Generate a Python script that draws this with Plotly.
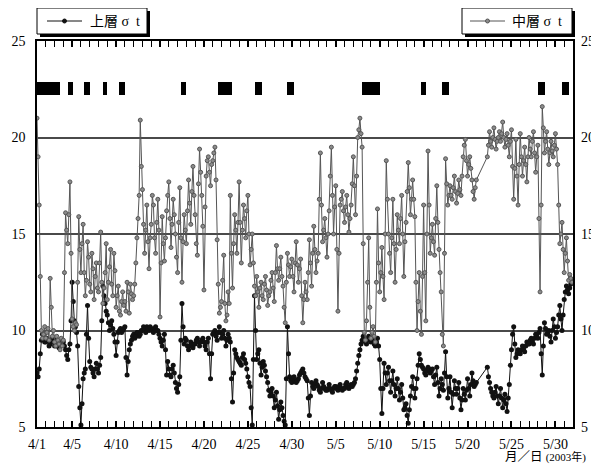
import pandas as pd
import plotly.graph_objects as go

# ---- data: 3-hourly readings (8 per day), 4/1 .. 5/31 ----
upper_sigma_t = [
    7.8, 7.6, 8.0, 8.8, 9.5, 9.8, 9.7, 9.4,
    9.4, 9.6, 9.5, 9.2, 9.3, 9.5, 9.6, 9.4,
    9.2, 9.5, 9.4, 9.2, 9.1, 9.3, 9.3, 9.5,
    9.4, 9.2, 9.0, 8.7, 8.5, 9.0, 9.3, 10.5,
    12.5, 11.5, 10.5, 10.2, 9.9, 9.2, 7.1, 6.0,
    5.1, 6.2, 7.5, 7.8, 8.0, 9.8, 11.3, 9.6,
    8.4, 8.1, 8.0, 7.8, 7.6, 8.0, 8.3, 8.0,
    7.8, 8.2, 8.6, 10.5, 12.3, 11.8, 11.4, 11.0,
    10.8, 10.4, 10.0, 10.3, 10.5, 10.1, 9.8, 9.4,
    8.7, 9.4, 9.9, 10.0, 10.1, 9.9, 10.0, 10.1,
    10.2, 8.6, 7.7, 8.4, 9.0, 9.3, 9.5, 9.7,
    9.8, 9.6, 9.7, 9.9, 9.9, 9.7, 9.8, 10.0,
    10.0, 10.2, 10.1, 9.9, 10.2, 10.1, 10.0, 10.2,
    10.1, 10.0, 9.9, 10.1, 10.2, 10.0, 10.0, 9.8,
    9.6, 9.4, 9.2, 9.5, 9.8, 9.0, 7.7, 8.4,
    8.0, 7.7, 7.6, 8.0, 8.2, 7.8, 7.3, 7.0,
    6.8, 7.2, 7.6, 9.5, 11.4, 10.2, 9.3, 9.6,
    9.5, 9.2, 9.0, 9.2, 9.4, 9.3, 9.1, 9.3,
    9.3, 9.5, 9.6, 9.4, 9.2, 9.4, 9.5, 9.6,
    9.4, 9.2, 9.0, 9.4, 9.6, 8.8, 7.5, 8.8,
    9.8, 9.9, 10.0, 9.7, 9.5, 9.9, 10.2, 9.9,
    9.6, 9.8, 10.0, 9.6, 9.2, 9.5, 9.8, 9.6,
    9.4, 7.5, 6.3, 7.8, 9.0, 8.8, 8.6, 8.5,
    8.4, 8.3, 8.2, 8.6, 8.8, 8.5, 8.3, 8.0,
    7.6, 7.3, 7.1, 6.0, 5.1, 8.5, 11.8, 10.0,
    8.5, 8.8, 9.0, 8.3, 7.7, 8.1, 8.4, 8.2,
    7.9, 7.6, 7.3, 6.9, 6.6, 6.8, 7.0, 6.6,
    6.0, 6.4, 6.8, 6.1, 5.4, 5.9, 6.3, 6.0,
    5.6, 5.3, 5.1, 7.5, 10.2, 8.8, 7.6, 7.4,
    7.3, 7.5, 7.6, 7.4, 7.3, 7.4, 7.5, 7.7,
    7.8, 7.9, 8.0, 7.8, 7.6, 7.5, 7.4, 6.5,
    5.6, 6.6, 7.3, 7.1, 7.0, 7.2, 7.4, 7.2,
    7.1, 6.9, 6.8, 7.0, 7.3, 7.1, 7.0, 6.9,
    6.9, 7.0, 7.2, 7.0, 6.9, 6.8, 7.0, 7.1,
    7.1, 7.0, 6.9, 7.1, 7.2, 7.0, 6.9, 7.0,
    7.0, 7.2, 7.3, 7.1, 7.0, 7.1, 7.2, 7.1,
    7.2, 7.3, 7.5, 7.9, 8.3, 8.7, 9.0, 9.3,
    9.5, 9.7, 9.6, 9.4, 9.3, 9.5, 9.7, 9.5,
    9.4, 9.6, 9.5, 9.3, 9.2, 9.4, 9.6, 9.2,
    8.5, 7.0, 5.7, 7.0, 8.3, 7.8, 7.2, 7.8,
    8.1, 7.4, 6.8, 7.4, 7.9, 7.2, 6.6, 7.0,
    7.5, 7.0, 6.4, 6.8, 7.2, 6.5, 5.9, 6.0,
    6.2, 5.6, 5.2, 5.9, 6.6, 7.1, 7.6, 7.0,
    6.5, 7.0, 7.5, 8.2, 8.8, 8.5, 8.2, 8.1,
    8.0, 7.8, 7.7, 7.9, 8.1, 8.0, 7.8, 7.9,
    8.0, 7.6, 7.2, 7.7, 8.1, 7.3, 6.6, 7.0,
    7.5, 7.2, 6.9, 7.8, 8.9, 7.6, 6.5, 7.0,
    7.6, 6.8, 6.0, 6.7, 7.4, 7.0, 6.7, 7.0,
    7.3, 6.5, 5.9, 6.4, 7.0, 6.7, 6.4, 6.9,
    7.5, 7.0, 6.6, 7.2, 7.8, 7.4, 7.1, 7.2,
    7.3, None, None, None, None, None, None, None,
    None, None, 8.1, 7.6, 7.3, 7.0, 6.8, 6.6,
    6.5, 6.8, 7.1, 6.6, 6.2, 6.6, 7.0, 6.5,
    6.0, 6.4, 6.7, 6.2, 5.8, 6.5, 7.2, 8.2,
    9.0, 9.8, 10.2, 9.3, 8.6, 8.8, 9.0, 8.9,
    8.8, 9.0, 9.2, 9.0, 8.9, 9.2, 9.4, 9.3,
    9.3, 9.5, 9.6, 9.4, 9.3, 9.6, 9.8, 9.7,
    9.6, 9.9, 10.1, 8.8, 7.7, 9.2, 10.4, 10.1,
    9.8, 9.9, 10.0, 9.7, 9.4, 10.0, 10.6, 10.2,
    9.6, 9.9, 10.2, 10.8, 11.3, 10.6, 10.0, 10.8,
    11.6, 12.0, 12.3, 12.1, 11.9, 12.2, 12.4, 12.6,
]
middle_sigma_t = [
    21.0, 19.0, 16.5, 12.8, 10.0, 9.6, 9.8, 10.2,
    9.6, 9.9, 10.1, 9.5, 12.7, 11.2, 9.7, 10.0,
    9.4, 9.2, 9.7, 9.5, 9.3, 9.0, 9.6, 9.2,
    9.5, 13.0, 16.1, 15.2, 14.5, 16.0, 17.7, 14.0,
    10.6, 10.2, 10.0, 10.4, 10.3, 12.5, 15.9, 14.2,
    13.0, 14.5, 15.5, 13.0, 11.8, 12.6, 14.6, 13.8,
    12.4, 12.0, 14.0, 13.2, 11.6, 12.8, 13.5, 12.2,
    12.0, 13.5, 15.1, 12.5, 11.4, 12.2, 13.0, 14.5,
    11.6, 12.5, 13.3, 14.2, 12.4, 11.8, 14.0, 13.1,
    11.2, 11.8, 12.3, 11.0, 10.8, 11.5, 12.0, 11.3,
    11.5, 11.0, 12.5, 12.0, 10.9, 12.4, 11.9, 11.6,
    11.8, 12.4, 13.5, 14.8, 15.8, 17.0, 20.9, 18.5,
    17.3, 15.5, 14.0, 15.2, 16.5, 14.6, 13.2, 14.8,
    15.5, 17.0, 16.5, 14.8, 14.0, 15.6, 16.8, 15.2,
    10.7, 13.5, 15.9, 14.5, 13.6, 14.8, 16.2, 17.0,
    17.7, 15.8, 14.3, 15.5, 16.8, 16.0, 15.0, 13.8,
    13.0, 15.6, 17.4, 14.8, 12.5, 14.6, 16.0, 15.2,
    14.5, 16.2, 17.8, 16.6, 15.5, 17.2, 18.5, 17.0,
    16.0, 14.5, 13.9, 17.6, 19.4, 18.2, 17.0, 15.4,
    12.1, 16.4, 18.0, 18.8, 19.0, 18.2, 17.5, 18.6,
    18.8, 19.2, 19.5, 17.8, 14.7, 12.4, 10.9, 11.2,
    11.5, 12.6, 13.9, 11.4, 10.5, 10.8, 12.0, 11.4,
    17.0, 14.0, 12.2, 14.5, 16.0, 15.2, 14.0, 15.6,
    17.7, 15.6, 13.5, 15.2, 16.5, 15.8, 14.8, 16.2,
    17.0, 15.0, 13.4, 14.2, 15.0, 13.5, 12.3, 11.8,
    12.8, 12.0, 11.2, 12.2, 12.5, 11.8, 11.6, 12.4,
    12.8, 12.1, 11.3, 11.8, 12.0, 12.6, 13.0, 12.2,
    11.5, 13.0, 14.4, 13.2, 12.6, 13.2, 13.8, 12.8,
    12.3, 11.2, 10.4, 12.5, 14.0, 13.4, 12.8, 13.3,
    13.7, 12.8, 12.0, 13.5, 14.6, 13.4, 12.5, 13.2,
    13.7, 11.8, 10.4, 11.6, 12.5, 12.0, 11.6, 13.0,
    14.7, 13.5, 12.3, 14.0, 15.4, 14.2, 13.0, 13.6,
    14.0, 16.8, 19.2, 16.5, 14.6, 15.2, 15.8, 14.8,
    13.8, 15.0, 16.2, 18.0, 19.5, 17.0, 15.0, 16.4,
    17.5, 14.2, 11.0, 14.0, 16.5, 16.8, 17.2, 16.2,
    15.6, 16.4, 17.0, 16.0, 15.1, 15.8, 16.5, 17.6,
    19.0, 17.5, 16.0, 18.0, 20.0, 20.4, 21.0, 20.2,
    19.5, 14.5, 9.9, 9.5, 10.5, 12.5, 14.8, 11.2,
    9.6, 9.9, 10.2, 9.7, 9.4, 12.5, 16.3, 13.5,
    12.0, 13.0, 14.3, 12.8, 11.6, 15.0, 18.8, 16.8,
    15.0, 14.0, 13.0, 14.8, 16.8, 14.5, 12.5, 14.2,
    16.0, 15.2, 14.5, 15.8, 17.0, 15.0, 12.8, 14.6,
    15.6, 17.2, 18.7, 17.4, 16.0, 16.8, 17.8, 16.8,
    15.9, 12.5, 10.0, 11.5, 13.0, 11.0, 9.8, 12.8,
    16.5, 13.0, 10.5, 15.0, 19.3, 16.5, 14.0, 14.8,
    15.5, 14.6, 13.9, 15.8, 17.5, 15.6, 14.2, 13.0,
    12.0, 9.8, 9.2, 14.0, 18.9, 17.6, 16.5, 17.0,
    17.5, 17.0, 16.8, 17.4, 18.0, 17.2, 16.6, 17.1,
    17.8, 17.3, 17.0, 18.0, 19.0, 19.6, 19.9, 18.8,
    18.0, 18.6, 19.0, 18.4, 17.8, 17.2, 16.8, 17.4,
    17.8, None, None, None, None, None, None, None,
    None, None, 19.0, 19.6, 20.3, 19.8, 19.5, 20.0,
    20.5, 19.9, 19.4, 19.8, 20.0, 20.3, 19.8, 20.2,
    20.8, 20.0, 19.5, 19.9, 20.2, 19.6, 19.0, 19.8,
    20.4, 18.5, 16.8, 18.4, 19.9, 18.0, 16.5, 18.6,
    20.2, 19.0, 18.0, 18.8, 19.5, 18.6, 17.7, 19.0,
    20.0, 19.4, 19.0, 19.8, 20.3, 19.2, 18.2, 19.0,
    19.6, 15.8, 12.0, 16.5, 21.6, 20.5, 19.2, 19.8,
    20.3, 19.4, 18.6, 19.2, 19.8, 19.3, 19.0, 19.6,
    20.2, 19.4, 18.6, 16.5, 14.5, 15.0, 15.6, 14.2,
    13.0, 14.0, 14.8, 13.6, 12.6, 12.9, 12.7, 12.5,
]
times = pd.date_range("2003-04-01 00:00", periods=len(upper_sigma_t), freq="3h")

series_names = ["上層\u00a0σ\u00a0\u00a0t", "中層\u00a0σ\u00a0\u00a0t"]

# periods marked by black bars near the top
mark_start = ["2003-04-01 01:00", "2003-04-04 14:00", "2003-04-06 07:00", "2003-04-08 12:00",
              "2003-04-10 07:00", "2003-04-17 10:00", "2003-04-21 14:00", "2003-04-25 19:00",
              "2003-04-29 12:00", "2003-05-08 00:00", "2003-05-14 18:00", "2003-05-17 02:00",
              "2003-05-28 00:00", "2003-05-30 19:00"]
mark_end = ["2003-04-03 14:00", "2003-04-05 02:00", "2003-04-07 00:00", "2003-04-09 00:00",
            "2003-04-11 00:00", "2003-04-17 22:00", "2003-04-23 05:00", "2003-04-26 14:00",
            "2003-04-30 05:00", "2003-05-10 02:00", "2003-05-15 07:00", "2003-05-17 22:00",
            "2003-05-28 19:00", "2003-05-31 14:00"]
mark_low, mark_high = 22.2, 22.85

tick_dates = ["2003-04-01", "2003-04-05", "2003-04-10", "2003-04-15", "2003-04-20", "2003-04-25",
              "2003-04-30", "2003-05-05", "2003-05-10", "2003-05-15", "2003-05-20", "2003-05-25",
              "2003-05-30"]
tick_text = ["4/1", "4/5", "4/10", "4/15", "4/20", "4/25", "4/30", "5/5", "5/10", "5/15",
             "5/20", "5/25", "5/30"]
y_ticks = [5, 10, 15, 20, 25]

FONT = '"Liberation Serif", "Noto Sans CJK JP", serif'
BLACK = "#111111"
GRAY_LINE = "#555555"
GRAY_FILL = "#8c8c8c"

ms = pd.to_datetime(pd.Series(mark_start))
me = pd.to_datetime(pd.Series(mark_end))
mid = ms + (me - ms) / 2
widths = [(b - a).total_seconds() * 1000 for a, b in zip(ms, me)]

fig = go.Figure()
fig.add_trace(go.Bar(x=list(mid), y=[mark_high - mark_low] * len(mid), base=mark_low,
                     width=widths, marker=dict(color="black", line=dict(width=0)),
                     showlegend=False, hoverinfo="skip"))
fig.add_trace(go.Scatter(x=times, y=upper_sigma_t, mode="lines+markers", name=series_names[0],
                         connectgaps=True, line=dict(color=BLACK, width=1),
                         marker=dict(symbol="circle", size=5, color=BLACK),
                         showlegend=False))
fig.add_trace(go.Scatter(x=times, y=middle_sigma_t, mode="lines+markers", name=series_names[1],
                         connectgaps=True, line=dict(color=GRAY_LINE, width=1),
                         marker=dict(symbol="circle", size=4, color=GRAY_FILL,
                                     line=dict(color=GRAY_LINE, width=1)),
                         yaxis="y2", showlegend=False))

# The page body has an 8px margin; figure coords = screen coords - 8.
# Target plot box on screen: x 37..573, y 41..427  ->  figure: x 29..565, y 33..419
W, H = 591, 466
PL, PR, PT, PB = 29, 565, 33, 419

def px_x(p):  # screen px -> paper x
    return (p - 8 - PL) / float(PR - PL)

def px_y(p):  # screen px -> paper y
    return (PB - (p - 8)) / float(PB - PT)

fig.update_layout(
    width=W, height=H,
    margin=dict(l=PL, r=W - PR, t=PT, b=H - PB, autoexpand=False),
    paper_bgcolor="white", plot_bgcolor="white",
    font=dict(family=FONT, size=14, color="black"),
    showlegend=False,
    xaxis=dict(type="date", range=["2003-04-01", "2003-06-01"],
               tickvals=tick_dates, ticktext=tick_text,
               ticks="inside", ticklen=6, tickcolor="black", tickwidth=1.5,
               minor=dict(ticks="inside", dtick=86400000, ticklen=6, tickcolor="black", tickwidth=1,
                          showgrid=False),
               showline=True, linecolor="black", linewidth=1.5, mirror="ticks",
               showgrid=False, zeroline=False, ticklabelstandoff=3,
               tickfont=dict(family=FONT, size=14)),
    yaxis=dict(range=[5, 25], tickvals=y_ticks, ticks="", showline=True, linecolor="black",
               linewidth=1.5, mirror=True, showgrid=True, gridcolor="#4a4a4a", gridwidth=1.5,
               zeroline=False, tickfont=dict(family=FONT, size=14), ticklabelstandoff=7),
    yaxis2=dict(range=[5, 25], tickvals=y_ticks, overlaying="y", side="right", ticks="",
                showgrid=False, zeroline=False, showline=False,
                tickfont=dict(family=FONT, size=14), ticklabelstandoff=7),
    bargap=0,
)

# hand-drawn legend boxes with drop shadow (Excel style), in screen px
legend_specs = [
    # box left, box right, line x0, line x1, text x, colour, marker fill
    (37, 147, 47, 82, 88, BLACK, BLACK),
    (462, 572, 470, 505, 510, GRAY_LINE, GRAY_FILL),
]
top, bot, mid_y = 8, 34, 21
for (bl, br, lx0, lx1, tx, col, mfill), name in zip(legend_specs, series_names):
    fig.add_shape(type="rect", xref="paper", yref="paper",
                  x0=px_x(bl + 3), x1=px_x(br + 3), y0=px_y(bot + 3), y1=px_y(top + 3),
                  fillcolor="black", line=dict(width=0))
    fig.add_shape(type="rect", xref="paper", yref="paper",
                  x0=px_x(bl), x1=px_x(br), y0=px_y(bot), y1=px_y(top),
                  fillcolor="white", line=dict(color="black", width=1))
    fig.add_shape(type="line", xref="paper", yref="paper",
                  x0=px_x(lx0), x1=px_x(lx1), y0=px_y(mid_y), y1=px_y(mid_y),
                  line=dict(color=col, width=1))
    cx = (lx0 + lx1) / 2.0
    fig.add_shape(type="circle", xref="paper", yref="paper",
                  x0=px_x(cx - 2), x1=px_x(cx + 2), y0=px_y(mid_y + 2), y1=px_y(mid_y - 2),
                  fillcolor=mfill, line=dict(color=col, width=1))
    fig.add_annotation(text=name, xref="paper", yref="paper", x=px_x(tx), y=px_y(mid_y),
                       xanchor="left", yanchor="middle", showarrow=False,
                       font=dict(family=FONT, size=14, color="black"))

fig.add_annotation(text="月／日 <span style='font-size:11px'>(2003年)</span>",
                   xref="paper", yref="paper", x=px_x(503), y=px_y(457),
                   xanchor="left", yanchor="middle", showarrow=False,
                   font=dict(family=FONT, size=12.5, color="black"))

fig.write_html("out.html")
